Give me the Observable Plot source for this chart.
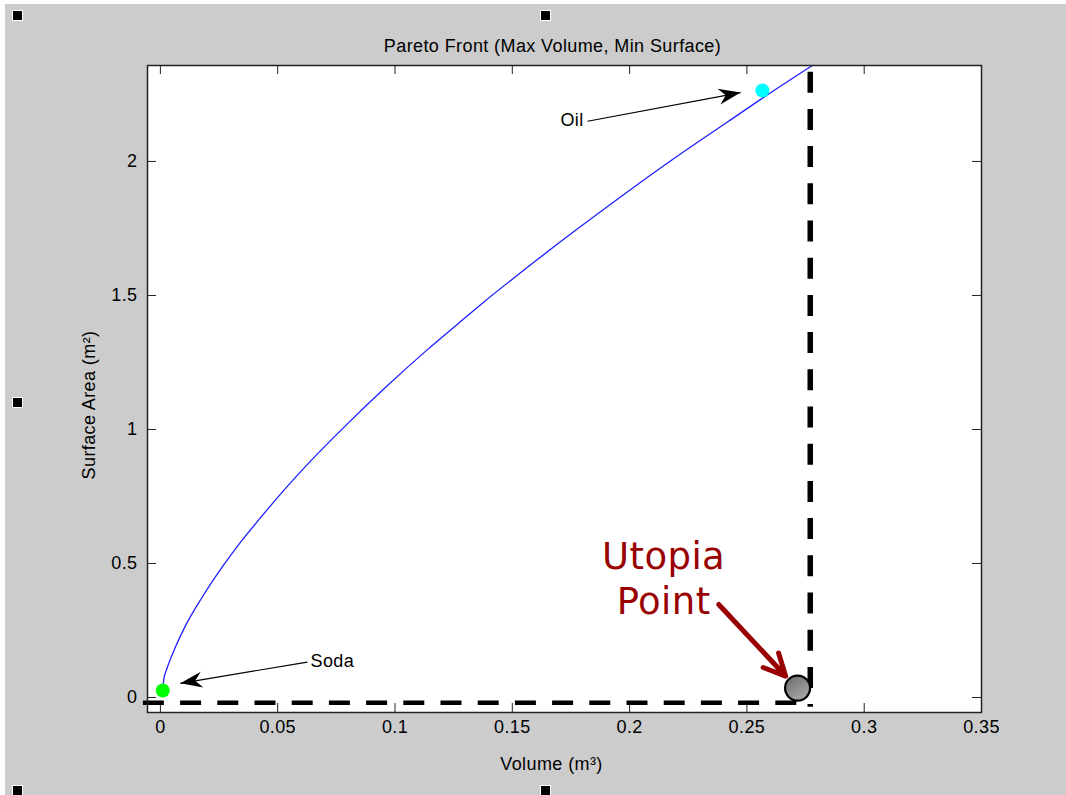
<!DOCTYPE html>
<html>
<head>
<meta charset="utf-8">
<script src="https://cdn.jsdelivr.net/npm/d3@7"></script>
<script src="https://cdn.jsdelivr.net/npm/@observablehq/plot@0.6"></script>
<style>
  html, body { margin: 0; padding: 0; background: #ffffff; }
  #page { position: relative; width: 1066px; height: 795px; overflow: hidden; background: #ffffff; }
  #bg { position: absolute; left: 5px; top: 4px; right: 0; bottom: 0; background: #cccccc; }
  #chart { position: absolute; left: 0; top: 0; }
  .handle { position: absolute; width: 9px; height: 9px; background: #000; border: 1px solid #fff; }
</style>
</head>
<body>
<div id="page">
  <div id="bg"></div>
  <div class="handle" style="left:12px;top:10px"></div>
  <div class="handle" style="left:540px;top:10px"></div>
  <div class="handle" style="left:12px;top:397px"></div>
  <div class="handle" style="left:12px;top:785px"></div>
  <div class="handle" style="left:540px;top:785px"></div>
  <div id="chart"></div>
</div>
<script>
// ---- data ----
const volume  = [0.0010, 0.0014, 0.0028, 0.0064, 0.0107, 0.0178, 0.0263, 0.0341, 0.0426, 0.0512, 0.0640, 0.0796, 0.0967, 0.1137, 0.1265, 0.1379, 0.1535, 0.1791, 0.2018, 0.2232, 0.2417, 0.2573, 0.2779];
const surface = [0.030,  0.066,  0.108,  0.188,  0.268,  0.374,  0.486,  0.579,  0.670,  0.759,  0.882,  1.020,  1.163,  1.297,  1.392,  1.476,  1.585,  1.757,  1.904,  2.037,  2.147,  2.240,  2.358];

const xTicks = [0, 0.05, 0.1, 0.15, 0.2, 0.25, 0.3, 0.35];
const yTicks = [0, 0.5, 1, 1.5, 2];
const xDomain = [-0.0055, 0.35];
const yDomain = [-0.056, 2.358];

const products = [
  {name: "Soda", volume: 0.0010, surface: 0.026, color: "#00ff00"},
  {name: "Oil",  volume: 0.2566, surface: 2.265, color: "#00ffff"}
];
const sodaLabel = [{text: "Soda", x: 0.0640, y: 0.134}];
const oilLabel  = [{text: "Oil",  x: 0.1804, y: 2.153}];
const productArrows = [
  {x1: 0.0626, y1: 0.132, x2: 0.0085, y2: 0.053},
  {x1: 0.1821, y1: 2.150, x2: 0.2473, y2: 2.257}
];

const utopia = {volume: 0.2716, surface: 0.035};
const utopiaBoundX = 0.277;    // max volume bound (vertical dashed)
const utopiaBoundY = -0.0198;  // min surface bound (horizontal dashed)
const utopiaLabels = [
  {text: "Utopia", x: 0.2145, y: 0.525},
  {text: "Point",  x: 0.2145, y: 0.357}
];
const utopiaArrow = [{x1: 0.238, y1: 0.347, x2: 0.2665, y2: 0.080}];

const titleText = "Pareto Front (Max Volume, Min Surface)";
const xLabel = "Volume (m³)";
const yLabel = "Surface Area (m²)";

// ---- layout ----
const W = 1066, H = 795, mL = 147, mR = 85, mT = 65, mB = 83;
const innerW = W - mL - mR, innerH = H - mT - mB, tick = 9;

const curve = volume.map((v, i) => ({volume: v, surface: surface[i]}));

function filledArrow(color, context) {
  const doc = (context && context.document) || document;
  const ns = "http://www.w3.org/2000/svg";
  const m = doc.createElementNS(ns, "marker");
  m.setAttribute("viewBox", "-24 -10 26 20");
  m.setAttribute("markerWidth", 26);
  m.setAttribute("markerHeight", 20);
  m.setAttribute("markerUnits", "userSpaceOnUse");
  m.setAttribute("orient", "auto");
  m.setAttribute("refX", 0);
  m.setAttribute("refY", 0);
  m.setAttribute("fill", color);
  m.setAttribute("stroke", "none");
  const p = doc.createElementNS(ns, "path");
  p.setAttribute("d", "M0,0L-22,-8L-15,0L-22,8Z");
  m.appendChild(p);
  return m;
}

const plot = Plot.plot({
  width: W, height: H,
  marginLeft: mL, marginRight: mR, marginTop: mT, marginBottom: mB,
  style: {background: "transparent", fontFamily: "'Liberation Sans', Arial, sans-serif", fontSize: "18px", color: "#000", letterSpacing: "0.4px", overflow: "visible"},
  x: {domain: xDomain, ticks: xTicks},
  y: {domain: yDomain, ticks: yTicks},
  marks: [
    Plot.frame({fill: "white", stroke: null}),
    // inward ticks, all four sides
    Plot.ruleX(xTicks, {stroke: "#222", strokeWidth: 1, insetTop: innerH - tick}),
    Plot.ruleX(xTicks, {stroke: "#222", strokeWidth: 1, insetBottom: innerH - tick}),
    Plot.ruleY(yTicks, {stroke: "#222", strokeWidth: 1, insetRight: innerW - tick}),
    Plot.ruleY(yTicks, {stroke: "#222", strokeWidth: 1, insetLeft: innerW - tick}),
    Plot.axisX({ticks: xTicks, tickSize: 0, tickPadding: 8, tickFormat: d => String(d), label: null}),
    Plot.axisY({ticks: yTicks, tickSize: 0, tickPadding: 10, tickFormat: d => String(d), label: null}),
    // Pareto front
    Plot.line(curve, {x: "volume", y: "surface", stroke: "#1f1fff", strokeWidth: 1.3, curve: "monotone-x"}),
    // utopia bounds
    Plot.ruleY([utopiaBoundY], {x1: -0.00725, x2: utopia.volume, stroke: "black", strokeWidth: 4.5, strokeDasharray: "21,16.2"}),
    Plot.ruleX([utopiaBoundX], {y1: 2.333, y2: -0.036, stroke: "black", strokeWidth: 5.5, strokeDasharray: "21,16.2"}),
    // product points
    Plot.dot(products, {x: "volume", y: "surface", r: 7, fill: d => d.color, stroke: null}),
    Plot.link(productArrows, {x1: "x1", y1: "y1", x2: "x2", y2: "y2", stroke: "black", strokeWidth: 1.2, markerEnd: filledArrow}),
    Plot.text(sodaLabel, {x: "x", y: "y", text: "text", textAnchor: "start", lineAnchor: "middle", fill: "black"}),
    Plot.text(oilLabel, {x: "x", y: "y", text: "text", textAnchor: "end", lineAnchor: "middle", fill: "black"}),
    // utopia point
    Plot.arrow(utopiaArrow, {x1: "x1", y1: "y1", x2: "x2", y2: "y2", stroke: "#990000", strokeWidth: 5, headLength: 7.2, headAngle: 52}),
    Plot.dot([utopia], {x: "volume", y: "surface", r: 12.5, fill: "url(#utopiaGrad)", stroke: "black", strokeWidth: 2.2}),
    Plot.text(utopiaLabels, {x: "x", y: "y", text: "text", textAnchor: "middle", lineAnchor: "middle", fill: "#990000", fontSize: 37, fontFamily: "'DejaVu Sans', sans-serif"}),
    // box
    Plot.frame({stroke: "#222", strokeWidth: 1.5}),
    // title and axis labels
    Plot.text([titleText], {frameAnchor: "top", dx: -12, dy: -19, textAnchor: "middle", lineAnchor: "middle", fill: "black"}),
    Plot.text([xLabel], {frameAnchor: "bottom", dx: -13, dy: 52, textAnchor: "middle", lineAnchor: "middle", fill: "black"}),
    Plot.text([yLabel], {frameAnchor: "left", dx: -58, dy: 16, rotate: -90, textAnchor: "middle", lineAnchor: "middle", fill: "black"})
  ]
});

const ns = "http://www.w3.org/2000/svg";
const defs = document.createElementNS(ns, "defs");
defs.innerHTML = '<linearGradient id="utopiaGrad" x1="0" y1="0" x2="0.6" y2="1"><stop offset="0" stop-color="#6a6a6a"/><stop offset="1" stop-color="#a6a6a6"/></linearGradient>';
plot.insertBefore(defs, plot.firstChild);
document.getElementById("chart").appendChild(plot);
</script>
</body>
</html>
